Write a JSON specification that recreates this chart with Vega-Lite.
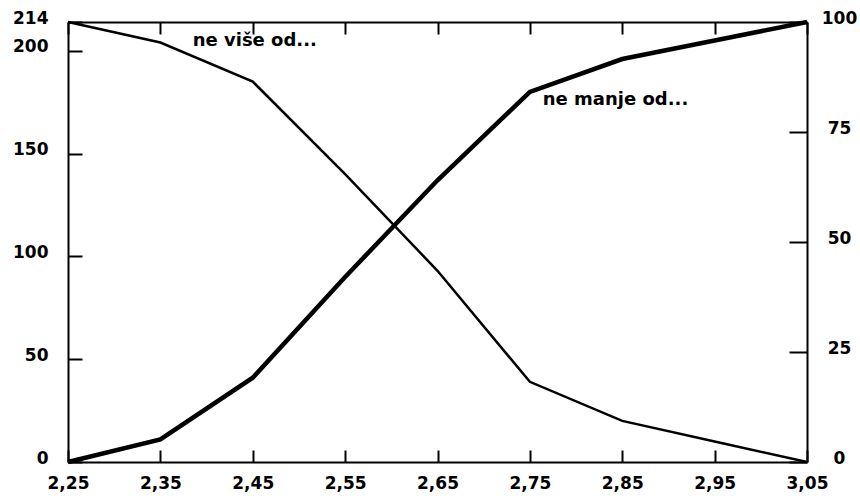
{
  "$schema": "https://vega.github.io/schema/vega-lite/v6.json",
  "width": 739,
  "height": 440,
  "autosize": "none",
  "padding": {"left": 68, "top": 22, "right": 53, "bottom": 34},
  "background": "white",
  "config": {
    "view": {"stroke": null},
    "axis": {
      "grid": false,
      "zindex": 1,
      "domainColor": "black",
      "domainWidth": 2,
      "tickColor": "black",
      "tickWidth": 2,
      "tickOpacity": 1,
      "labelColor": "black",
      "labelFont": "DejaVu Sans",
      "labelFontWeight": "bold",
      "labelFontSize": 17
    }
  },
  "datasets": {
    "curves": [
      {"x": 2.25, "value": 214, "series": "ne više od"},
      {"x": 2.35, "value": 204, "series": "ne više od"},
      {"x": 2.45, "value": 185, "series": "ne više od"},
      {"x": 2.55, "value": 140, "series": "ne više od"},
      {"x": 2.65, "value": 93, "series": "ne više od"},
      {"x": 2.75, "value": 39, "series": "ne više od"},
      {"x": 2.85, "value": 20, "series": "ne više od"},
      {"x": 2.95, "value": 10, "series": "ne više od"},
      {"x": 3.05, "value": 0, "series": "ne više od"},
      {"x": 2.25, "value": 0, "series": "ne manje od"},
      {"x": 2.35, "value": 11, "series": "ne manje od"},
      {"x": 2.45, "value": 41, "series": "ne manje od"},
      {"x": 2.55, "value": 90, "series": "ne manje od"},
      {"x": 2.65, "value": 137, "series": "ne manje od"},
      {"x": 2.75, "value": 180, "series": "ne manje od"},
      {"x": 2.85, "value": 196, "series": "ne manje od"},
      {"x": 2.95, "value": 205, "series": "ne manje od"},
      {"x": 3.05, "value": 214, "series": "ne manje od"}
    ],
    "notes": [
      {"x": 2.385, "y": 205, "label": "ne više od..."},
      {"x": 2.764, "y": 176, "label": "ne manje od..."}
    ]
  },
  "layer": [
    {
      "data": {"name": "curves"},
      "transform": [{"filter": "datum.series == 'ne više od'"}],
      "mark": {"type": "line", "color": "black", "strokeWidth": 2.5},
      "encoding": {
        "x": {
          "field": "x", "type": "quantitative",
          "scale": {"domain": [2.25, 3.05], "nice": false, "zero": false},
          "axis": {
            "orient": "bottom",
            "values": [2.25, 2.35, 2.45, 2.55, 2.65, 2.75, 2.85, 2.95, 3.05],
            "labelExpr": "replace(format(datum.value, '.2f'), '.', ',')",
            "ticks": true,
            "tickSize": -12,
            "labelPadding": 25,
            "labelFlush": false,
            "title": null
          }
        },
        "y": {
          "field": "value", "type": "quantitative",
          "scale": {"domain": [0, 214], "nice": false},
          "axis": {
            "orient": "left",
            "values": [0, 50, 100, 150, 200, 214],
            "ticks": true,
            "tickSize": -14,
            "labelPadding": 34,
            "labelOffset": -4,
            "title": null
          }
        }
      }
    },
    {
      "data": {"name": "curves"},
      "transform": [{"filter": "datum.series == 'ne manje od'"}],
      "mark": {"type": "line", "color": "black", "strokeWidth": 4.5},
      "encoding": {
        "x": {
          "field": "x", "type": "quantitative",
          "scale": {"domain": [2.25, 3.05], "nice": false, "zero": false},
          "axis": {
            "orient": "top",
            "values": [2.25, 2.35, 2.45, 2.55, 2.65, 2.75, 2.85, 2.95, 3.05],
            "labels": false,
            "ticks": true,
            "tickSize": -12,
            "title": null
          }
        },
        "y": {
          "field": "value", "type": "quantitative",
          "scale": {"domain": [0, 214], "nice": false},
          "axis": {
            "orient": "right",
            "values": [0, 53.5, 107, 160.5, 214],
            "labelExpr": "format(datum.value / 2.14, 'd')",
            "labelAlign": "center",
            "ticks": true,
            "tickSize": -18,
            "labelPadding": 50,
            "labelOffset": -4,
            "title": null
          }
        }
      }
    },
    {
      "data": {"name": "notes"},
      "mark": {"type": "text", "align": "left", "baseline": "middle", "font": "DejaVu Sans", "fontWeight": "bold", "fontSize": 18, "color": "black"},
      "encoding": {
        "x": {"field": "x", "type": "quantitative", "scale": {"domain": [2.25, 3.05], "nice": false, "zero": false}, "axis": null},
        "y": {"field": "y", "type": "quantitative", "scale": {"domain": [0, 214], "nice": false}, "axis": null},
        "text": {"field": "label"}
      }
    }
  ],
  "resolve": {"scale": {"y": "independent"}, "axis": {"x": "independent", "y": "independent"}}
}
